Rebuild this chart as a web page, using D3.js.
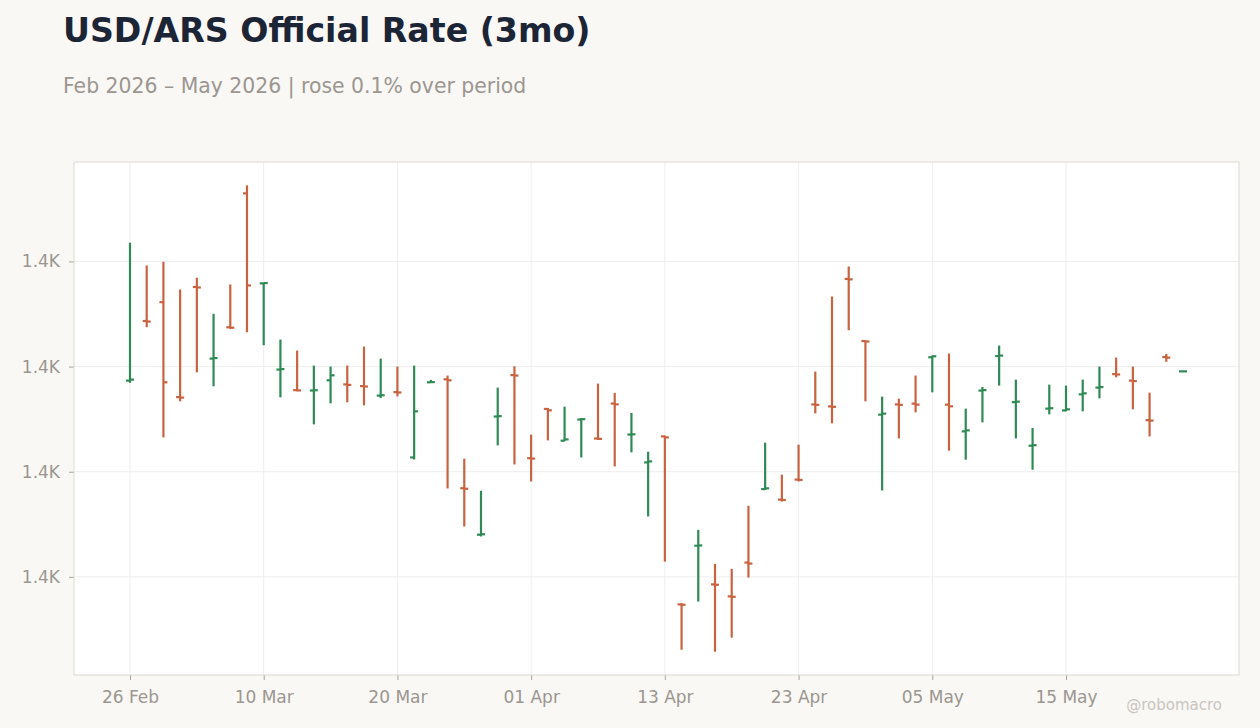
<!DOCTYPE html>
<html>
<head>
<meta charset="utf-8">
<script src="https://cdn.jsdelivr.net/npm/d3@7"></script>
<style>
  body { margin: 0; background: #f9f8f5; font-family: "DejaVu Sans", sans-serif; }
  #chart { width: 1260px; height: 728px; }
</style>
</head>
<body>
<div id="chart"></div>
<script>
// trading days, Feb 26 – May 26 2026 (weekdays)
const dates = [
  "2026-02-26","2026-02-27","2026-03-02","2026-03-03","2026-03-04","2026-03-05","2026-03-06",
  "2026-03-09","2026-03-10","2026-03-11","2026-03-12","2026-03-13","2026-03-16","2026-03-17",
  "2026-03-18","2026-03-19","2026-03-20","2026-03-23","2026-03-24","2026-03-25","2026-03-26",
  "2026-03-27","2026-03-30","2026-03-31","2026-04-01","2026-04-02","2026-04-03","2026-04-06",
  "2026-04-07","2026-04-08","2026-04-09","2026-04-10","2026-04-13","2026-04-14","2026-04-15",
  "2026-04-16","2026-04-17","2026-04-20","2026-04-21","2026-04-22","2026-04-23","2026-04-24",
  "2026-04-27","2026-04-28","2026-04-29","2026-04-30","2026-05-01","2026-05-04","2026-05-05",
  "2026-05-06","2026-05-07","2026-05-08","2026-05-11","2026-05-12","2026-05-13","2026-05-14",
  "2026-05-15","2026-05-18","2026-05-19","2026-05-20","2026-05-21","2026-05-22","2026-05-25",
  "2026-05-26"
];

const opens = [
  1417.33,1428.67,1432.25,1414.19,1435.14,1421.52,1427.47,1452.95,1435.83,1419.43,1415.52,
  1415.45,1417.39,1416.61,1416.29,1414.48,1415.14,1402.72,1417.01,1417.58,1396.86,1388.02,
  1410.50,1418.38,1402.57,1411.94,1405.90,1409.92,1406.32,1412.97,1407.07,1401.77,1406.72,
  1374.76,1385.92,1378.57,1376.29,1382.72,1396.70,1394.70,1398.51,1412.80,1412.42,1436.67,
  1424.86,1410.86,1412.80,1412.95,1421.77,1412.76,1407.68,1415.43,1422.00,1413.24,1404.95,
  1412.00,1411.66,1414.72,1416.00,1418.57,1417.33,1409.81,1421.81,1419.09
];
const highs = [
  1443.56,1439.24,1439.94,1434.67,1436.90,1430.04,1435.62,1454.48,1435.94,1425.14,1423.05,
  1420.19,1420.00,1420.19,1423.81,1421.52,1420.00,1420.19,1417.47,1418.29,1402.48,1396.38,
  1416.00,1420.06,1407.05,1412.13,1412.38,1410.23,1416.76,1414.99,1411.18,1403.81,1406.86,
  1374.99,1388.95,1382.48,1381.52,1393.52,1405.52,1399.43,1405.14,1419.05,1433.33,1439.05,
  1424.95,1414.29,1413.90,1418.29,1422.10,1422.48,1412.00,1416.13,1424.00,1417.52,1408.32,
  1416.57,1416.38,1417.52,1420.00,1421.71,1420.00,1415.05,1422.42,1419.09
];
const lows = [
  1416.90,1427.49,1406.53,1413.39,1418.91,1416.25,1427.18,1426.53,1424.06,1414.15,1415.30,
  1409.01,1413.01,1413.20,1412.63,1414.04,1414.34,1402.34,1416.90,1396.82,1389.58,1387.68,
  1405.01,1401.39,1398.15,1405.96,1405.81,1402.72,1406.04,1401.01,1403.68,1391.49,1382.91,
  1366.15,1375.30,1365.77,1368.44,1379.87,1396.51,1394.34,1398.15,1411.10,1409.20,1426.91,
  1413.39,1396.44,1406.34,1411.30,1415.10,1404.00,1402.29,1409.39,1416.38,1406.34,1400.38,
  1410.91,1411.49,1411.49,1413.96,1417.96,1411.87,1406.72,1420.90,1419.09
];
const closes = [
  1417.52,1428.57,1417.01,1414.10,1435.05,1421.62,1427.39,1435.43,1435.89,1419.52,1415.47,
  1415.50,1418.34,1416.51,1416.21,1414.55,1415.07,1411.49,1417.05,1417.39,1396.76,1388.10,
  1410.57,1418.29,1402.50,1411.68,1406.15,1410.00,1406.25,1412.82,1407.12,1401.96,1406.53,
  1374.69,1385.98,1378.50,1376.21,1382.53,1396.84,1394.63,1398.44,1412.72,1412.34,1436.59,
  1424.78,1411.05,1412.72,1412.76,1421.96,1412.44,1407.87,1415.52,1422.10,1413.33,1405.05,
  1412.08,1411.87,1414.91,1416.10,1418.50,1417.24,1409.73,1421.71,1419.09
];

const title = "USD/ARS Official Rate (3mo)";
const subtitle = "Feb 2026 – May 2026 | rose 0.1% over period";
const upColor = "#2f8a55";
const downColor = "#c9623f";

const W = 1260, H = 728;
const margin = { top: 162, right: 21, bottom: 53, left: 74 };
const width = W - margin.left - margin.right;
const height = H - margin.top - margin.bottom;

const parse = d3.timeParse("%Y-%m-%d");
const fmtDate = d3.timeFormat("%d %b");
const data = dates.map((d, i) => ({
  i: i, date: parse(d),
  open: opens[i], high: highs[i], low: lows[i], close: closes[i]
}));

const svg = d3.select("#chart").append("svg")
  .attr("width", W).attr("height", H);

svg.append("text")
  .attr("x", 63).attr("y", 42)
  .style("font-size", "33.2px").style("font-weight", "bold")
  .attr("fill", "#1c2536")
  .text(title);

svg.append("text")
  .attr("x", 63).attr("y", 93)
  .style("font-size", "20.4px")
  .attr("fill", "#9b9690")
  .text(subtitle);

const g = svg.append("g").attr("transform", `translate(${margin.left},${margin.top})`);

g.append("rect")
  .attr("width", width).attr("height", height)
  .attr("fill", "#fff");

// x: one slot per trading day
const x = d3.scalePoint()
  .domain(data.map(d => d.i))
  .range([0, width])
  .padding(3.35);

const yMin = d3.min(lows), yMax = d3.max(highs);
const pad = (yMax - yMin) * 0.05;
const y = d3.scaleLinear()
  .domain([yMin - pad, yMax + pad])
  .range([height, 0]);

const yTicks = y.ticks(5);
const xTicks = data.filter(d => d.i % 8 === 0).map(d => d.i);

// grid
g.append("g").selectAll("line").data(yTicks).join("line")
  .attr("x1", 0).attr("x2", width)
  .attr("y1", d => y(d)).attr("y2", d => y(d))
  .attr("stroke", "#eeeeee");
g.append("g").selectAll("line").data(xTicks).join("line")
  .attr("x1", d => x(d)).attr("x2", d => x(d))
  .attr("y1", 0).attr("y2", height)
  .attr("stroke", "#eeeeee");

// axes
const yAxis = g.append("g")
  .call(d3.axisLeft(y).tickValues(yTicks).tickSize(5).tickPadding(9)
    .tickFormat(d => (d / 1000).toFixed(1) + "K"));
const xAxis = g.append("g")
  .attr("transform", `translate(0,${height})`)
  .call(d3.axisBottom(x).tickValues(xTicks).tickSize(5).tickPadding(11)
    .tickFormat(i => fmtDate(data[i].date)));

[yAxis, xAxis].forEach(a => {
  a.select(".domain").remove();
  a.selectAll(".tick line").attr("stroke", "#a8a39d");
  a.selectAll(".tick text")
    .attr("fill", "#9b9690")
    .style("font-size", "17px")
    .style("font-family", "DejaVu Sans, sans-serif");
});

// border
g.append("rect")
  .attr("width", width).attr("height", height)
  .attr("fill", "none").attr("stroke", "#ddd8d2");

// OHLC bars
const tick = 4;
const bars = g.append("g").selectAll("g").data(data).join("g")
  .attr("stroke", d => d.close >= d.open ? upColor : downColor)
  .attr("stroke-width", 2.2);

bars.append("line")
  .attr("x1", d => x(d.i)).attr("x2", d => x(d.i))
  .attr("y1", d => y(d.high)).attr("y2", d => y(d.low));
bars.append("line")
  .attr("x1", d => x(d.i) - tick).attr("x2", d => x(d.i))
  .attr("y1", d => y(d.open)).attr("y2", d => y(d.open));
bars.append("line")
  .attr("x1", d => x(d.i)).attr("x2", d => x(d.i) + tick)
  .attr("y1", d => y(d.close)).attr("y2", d => y(d.close));

svg.append("text")
  .attr("x", 1222).attr("y", 710)
  .attr("text-anchor", "end")
  .style("font-size", "15px")
  .attr("fill", "#c9c5c0")
  .text("@robomacro");
</script>
</body>
</html>
